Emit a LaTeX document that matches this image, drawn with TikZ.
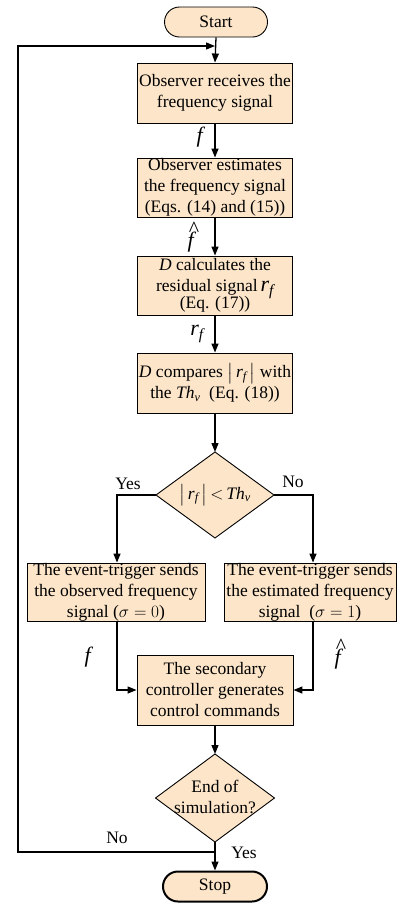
\documentclass[tikz,border=0pt]{standalone}
\usepackage{amsmath}
\usepackage{fontspec}
\setmainfont{Liberation Serif}
\usetikzlibrary{arrows.meta,calc}
\definecolor{peach}{RGB}{252,229,201}
\newcommand{\vf}{\textit{f}}
\newcommand{\vhf}{\ooalign{\textit{f}\cr\hidewidth\raisebox{0.5em}{\hspace{0.18em}\^{}}\hidewidth\cr}}
\newcommand{\vrf}{\textit{r}$_{\text{\itshape f}}$}
\newcommand{\vth}{\textit{Th}$_{\text{\itshape v}}$}
\newcommand{\absrf}{$\left|\text{\,\vrf\,}\vphantom{\rule{0pt}{0.75em}}\right|$}
\tikzset{
  box/.style={draw=black, line width=0.9pt, fill=peach, rectangle, inner sep=0pt, align=center, font=\fontsize{17.5}{21}\selectfont},
  term/.style={draw=black, fill=peach, rectangle, rounded corners=15pt, inner sep=0pt, align=center, font=\fontsize{17.5}{21}\selectfont},
  dtext/.style={inner sep=0pt, align=center, font=\fontsize{17.5}{21}\selectfont},
  lbl/.style={inner sep=0pt, font=\fontsize{17.5}{21}\selectfont},
  mlbl/.style={inner sep=0pt, font=\fontsize{22}{24}\selectfont},
  conn/.style={line width=1.3pt, -{Triangle[length=9pt,width=7pt]}},
  dia/.style={draw=black, line width=0.9pt, fill=peach},
}
\begin{document}
\begin{tikzpicture}[x=1pt,y=-1pt]
\useasboundingbox (0,0) rectangle (397,905);
% terminals
\node[term, line width=0.9pt, minimum width=103pt, minimum height=30pt] (start) at (216,22) {Start};
\node[term, line width=2pt, minimum width=104pt, minimum height=30pt] (stop) at (215,886.5) {Stop};
% process boxes
\node[box, minimum width=155pt, minimum height=60pt] (b1) at (215,93) {Observer receives the\\frequency signal};
\node[box, minimum width=155pt, minimum height=59pt] (b2) at (215,187.5) {Observer estimates\\the frequency signal\\(Eqs. (14) and (15))};
\node[box, minimum width=155pt, minimum height=59pt] (b3) at (215,285.5) {\textit{D} calculates the\\residual signal\,{\fontsize{22}{22}\selectfont\vrf}\\[-4pt](Eq. (17))};
\node[box, minimum width=155pt, minimum height=60pt] (b4) at (215,383) {\textit{D} compares \absrf\ with\\the \vth\ ~(Eq. (18))};
% decision 1
\coordinate (d1t) at (215,452);
\coordinate (d1b) at (215,538);
\coordinate (d1l) at (156,495);
\coordinate (d1r) at (274,495);
\draw[dia] (d1t) -- (d1r) -- (d1b) -- (d1l) -- cycle;
\node[dtext] (d1) at (215,495) {\absrf\,$<$\,\vth};
% branch boxes
\node[box, minimum width=178pt, minimum height=58pt] (lb) at (116,592) {The event-trigger sends\\the observed frequency\\signal ($\sigma = 0$)};
\node[box, minimum width=172pt, minimum height=58pt] (rb) at (310,592) {The event-trigger sends\\the estimated frequency\\signal~ ($\sigma = 1$)};
\node[box, minimum width=156pt, minimum height=70pt] (bb) at (215,690) {The secondary\\controller generates\\control commands};
% decision 2
\coordinate (d2t) at (215,754);
\coordinate (d2b) at (215,842);
\coordinate (d2l) at (155.5,798);
\coordinate (d2r) at (274.5,798);
\draw[dia] (d2t) -- (d2r) -- (d2b) -- (d2l) -- cycle;
\node[dtext] (d2) at (215,797) {End of\\simulation?};
% helper coordinates
\coordinate (loopin) at (215,46);
\coordinate (loopout) at (215,852);
\coordinate (lcorner) at (117,495);
\coordinate (rcorner) at (313,495);
\coordinate (lbot) at (117,690);
\coordinate (rbot) at (313,690);
% connectors
\draw[conn] (start.south) -- (b1.north);
\draw[conn] (b1.south) -- (b2.north);
\draw[conn] (b2.south) -- (b3.north);
\draw[conn] (b3.south) -- (b4.north);
\draw[conn] (b4.south) -- (d1t);
\draw[conn] (d1l) -- (lcorner) -- (lb.north -| lcorner);
\draw[conn] (d1r) -- (rcorner) -- (rb.north -| rcorner);
\draw[conn] (lb.south -| lbot) -- (lbot) -- (bb.west);
\draw[conn] (rb.south -| rbot) -- (rbot) -- (bb.east);
\draw[conn] (bb.south) -- (d2t);
\draw[conn] (d2b) -- (stop.north);
\draw[conn] (loopout) -- (18,852) -- (18,46) -- (loopin);
% labels
\node[mlbl] (lf1) at (201,137) {\vf};
\node[mlbl] (lf2) at (192,240) {\vhf};
\node[mlbl] (lf3) at (197,334) {\vrf};
\node[mlbl] (lf4) at (89,657) {\vf};
\node[mlbl] (lf5) at (339,657) {\vhf};
\node[lbl] (yes1) at (128,484) {Yes};
\node[lbl] (no1) at (293,482) {No};
\node[lbl] (no2) at (117,838) {No};
\node[lbl] (yes2) at (244,853) {Yes};
\end{tikzpicture}
\end{document}
